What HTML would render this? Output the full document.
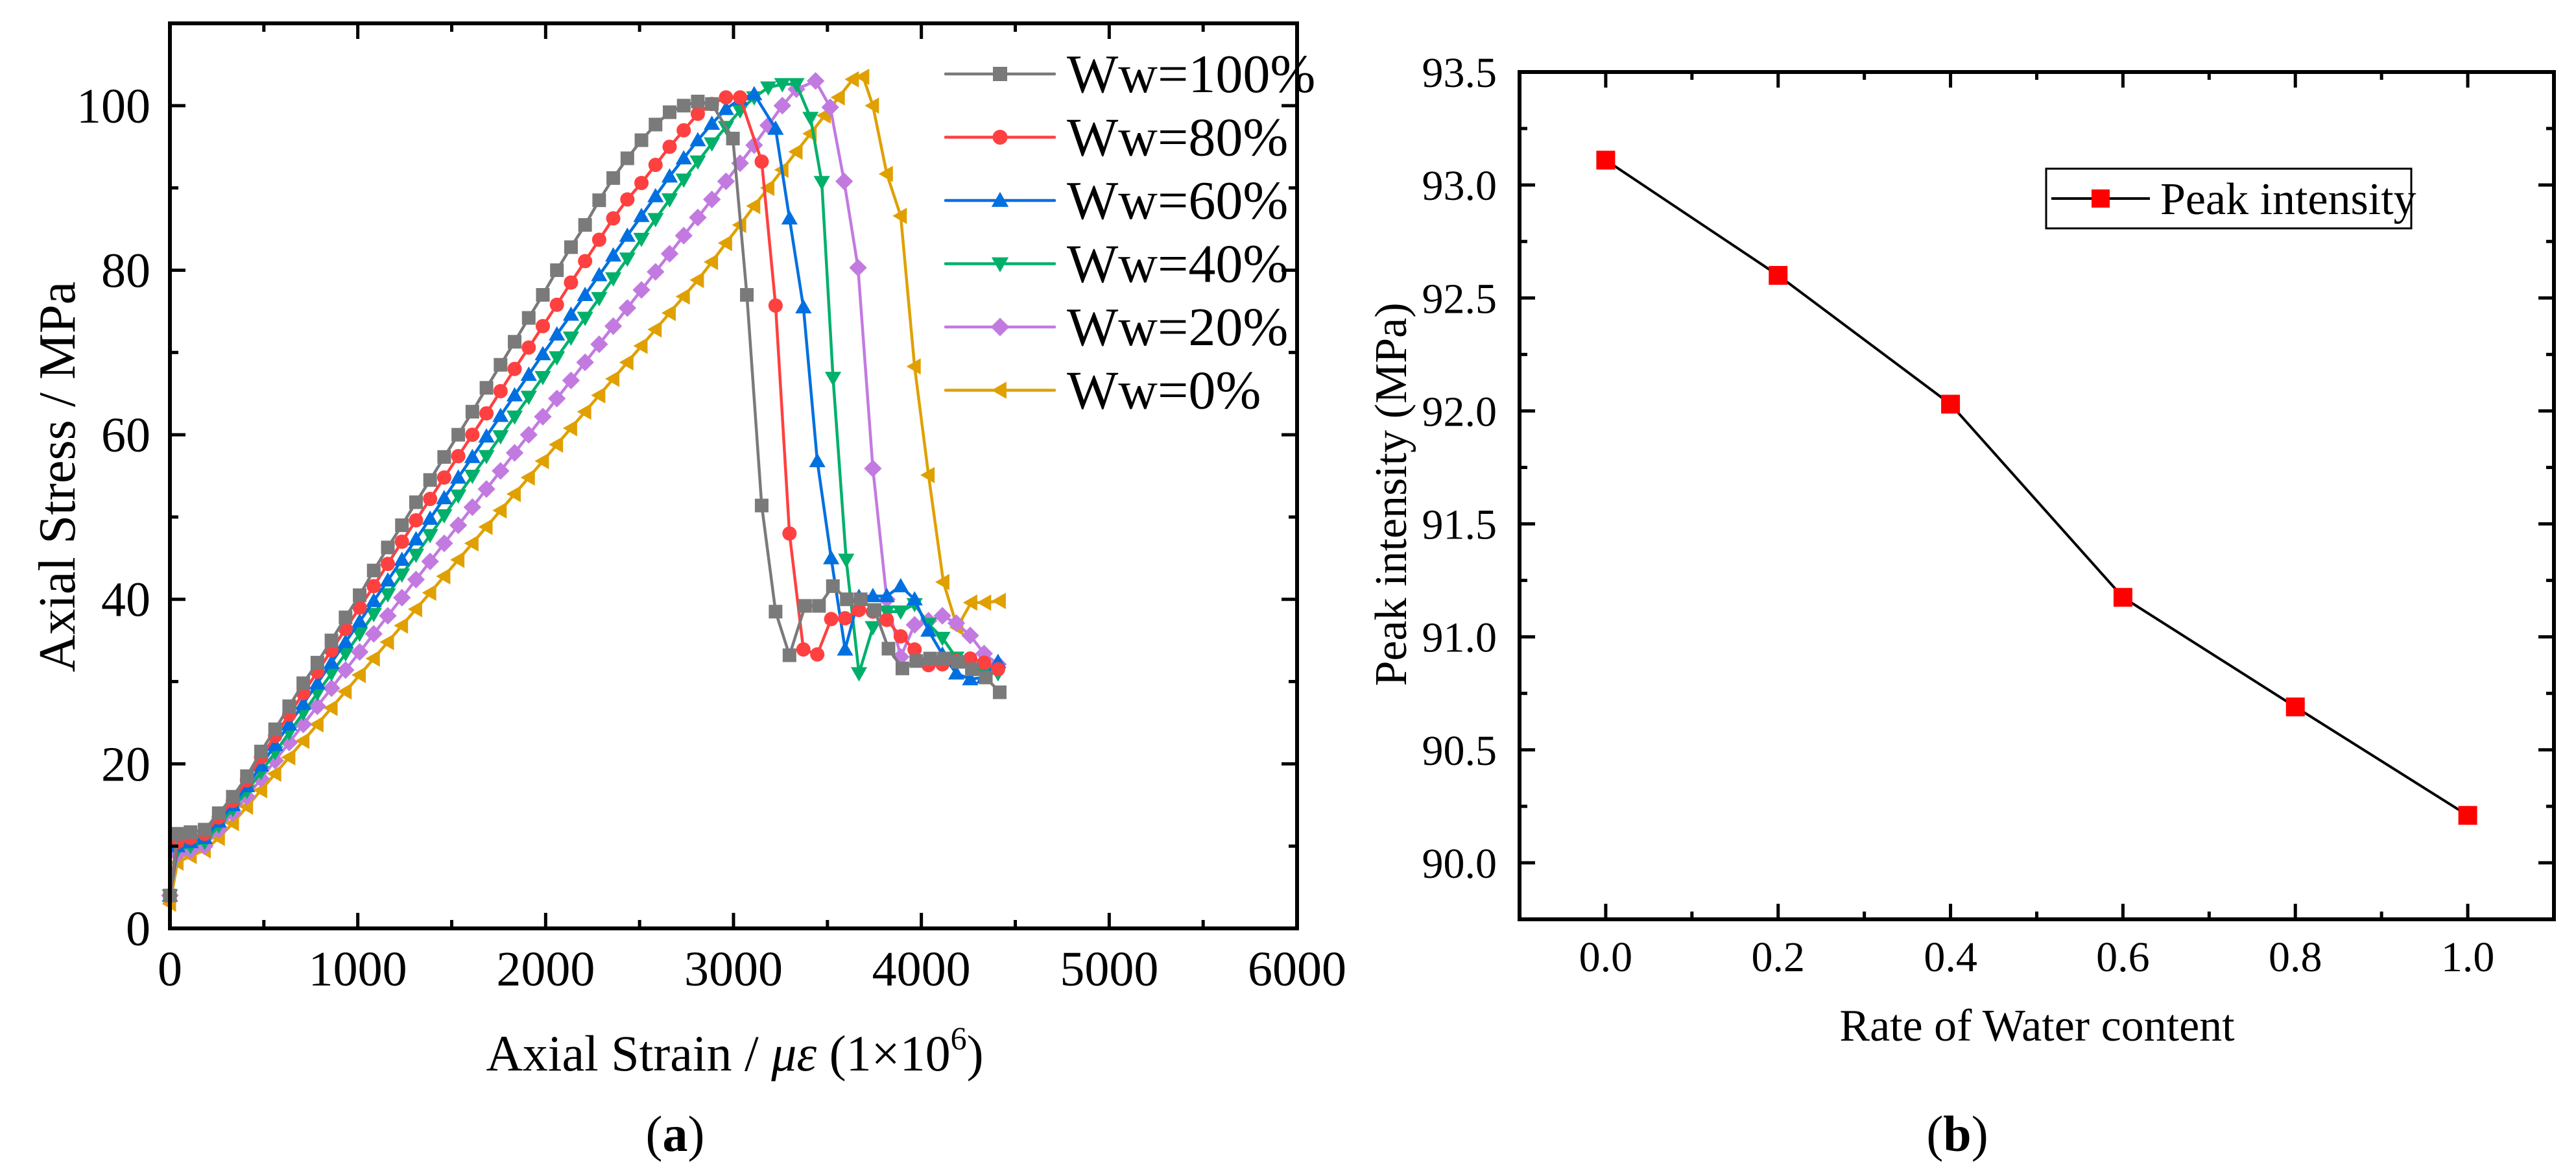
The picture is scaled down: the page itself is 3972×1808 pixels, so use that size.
<!DOCTYPE html>
<html><head><meta charset="utf-8"><style>
html,body{margin:0;padding:0;background:#fff;font-family:"Liberation Serif","DejaVu Serif",serif;}
svg{display:block;}
svg text, svg tspan{font-family:"Liberation Serif","DejaVu Serif",serif !important;fill:#000;}
</style></head><body>
<svg id="root" width="3972" height="1808" viewBox="0 0 3972 1808" xmlns="http://www.w3.org/2000/svg" font-family="Liberation Serif">
<g id="chartA" font-family="Liberation Serif"></g>
<g id="chartB" font-family="Liberation Serif"></g>
<g id="labelsA" font-family="Liberation Serif">
<text x="1133" y="1650" font-size="78" text-anchor="middle" font-family="Liberation Serif">Axial Strain / <tspan font-style="italic">με</tspan> (1×10<tspan font-size="50" dy="-33">6</tspan><tspan dy="33">)</tspan></text>
<text x="0" y="0" font-size="80" text-anchor="middle" font-family="Liberation Serif" transform="translate(115,735) rotate(-90)">Axial Stress / MPa</text>
<text x="1041" y="1774" font-size="78" text-anchor="middle" font-family="Liberation Serif">(<tspan font-weight="bold">a</tspan>)</text>
<text x="1645" y="142" font-size="84" font-family="Liberation Serif">Ww=100%</text>
<text x="1645" y="239.5" font-size="84" font-family="Liberation Serif">Ww=80%</text>
<text x="1645" y="337" font-size="84" font-family="Liberation Serif">Ww=60%</text>
<text x="1645" y="434.5" font-size="84" font-family="Liberation Serif">Ww=40%</text>
<text x="1645" y="532" font-size="84" font-family="Liberation Serif">Ww=20%</text>
<text x="1645" y="629.5" font-size="84" font-family="Liberation Serif">Ww=0%</text>
</g>
<g id="labelsB" font-family="Liberation Serif">
<text x="3141" y="1604" font-size="70" text-anchor="middle" font-family="Liberation Serif">Rate of Water content</text>
<text x="0" y="0" font-size="70" text-anchor="middle" font-family="Liberation Serif" transform="translate(2168,762) rotate(-90)">Peak intensity (MPa)</text>
<text x="3018" y="1774" font-size="78" text-anchor="middle" font-family="Liberation Serif">(<tspan font-weight="bold">b</tspan>)</text>
</g>
</svg>
<script>
// ---- Chart (a) data ----
const seriesNames = ["Ww=100%","Ww=80%","Ww=60%","Ww=40%","Ww=20%","Ww=0%"];
const seriesColors = ["#7a7a7a","#ff4040","#0070e0","#00b06a","#c27ae0","#e0a000"];
const seriesMarkers = ["square","circle","triangle-up","triangle-down","diamond","triangle-left"];
const gridX = [0,40,110,185,260,335,410,485,560,635,710,785,860,935,1010,1085,1160,1235,1310,1385,1460,1535,1610,1685,1760,1835,1910,1985,2060,2135,2210,2285,2360,2435,2510,2585,2660,2735,2810,2885,2960,3035,3110,3185,3260,3335,3410,3485,3560,3635];
const x100 = gridX.slice(0,40).concat([2997,3071,3150,3224,3298,3381,3455,3529,3603,3677,3751,3825,3899,3973,4047,4121,4195,4269,4343,4417]);
const y100 = [4,11.5,11.7,12,14,16,18.5,21.5,24.2,27,29.8,32.3,35,37.8,40.5,43.5,46.3,49,51.8,54.5,57.3,60,62.8,65.7,68.5,71.3,74.2,77,80,82.8,85.5,88.5,91.2,93.6,95.8,97.7,99.2,100,100.5,100.2,96,77,51.4,38.5,33.2,39.2,39.2,41.6,40,40,38.7,34,31.6,32.5,32.8,32.8,32.4,31.5,30.5,28.7];
const x80 = gridX.slice(0,42).concat([3150,3224,3298,3372,3446,3520,3594,3668,3742,3816,3890,3964,4038,4112,4186,4260,4334,4408]);
const y80 = [4,10.5,11,11.5,13.5,15.5,18,20.8,23.4,26,28.6,31.2,33.8,36.4,39,41.6,44.3,47,49.6,52.2,54.8,57.4,60,62.6,65.3,68,70.6,73.2,75.8,78.5,81.1,83.7,86.3,88.6,90.6,92.8,95,97,99,100.2,101,101,93.2,75.7,48,33.9,33.3,37.6,37.7,38.7,38.5,37.5,35.5,33.9,32,32.1,32.5,32.8,32.3,31.5];
const x60 = gridX.slice(0,43).concat([3224,3298,3372,3446,3520,3594,3668,3742,3816,3890,3964,4038,4112,4186,4260,4334,4408]);
const y60 = [4,10,10.5,11,13,15,17.3,19.8,22.3,24.8,27.3,29.8,32.3,34.8,37.3,39.8,42.3,44.8,47.3,49.8,52.3,54.8,57.3,59.8,62.3,64.8,67.3,69.8,72.2,74.6,77,79.4,81.8,84.2,86.6,89,91.4,93.6,95.8,97.8,99.6,100.8,101.4,97.2,86.3,75.5,56.8,45,33.9,40.3,40.4,40.4,41.6,40,36.2,33.3,31,30.3,30.5,32.4];
const x40 = gridX.slice(0,46).concat([3410,3470,3530,3600,3668,3742,3816,3890,3964,4038,4112,4186,4260,4334,4408]);
const y40 = [4,9.5,10,10.5,12.5,14.5,16.7,19,21.4,23.8,26.2,28.6,31,33.4,35.8,38.2,40.6,43,45.4,47.8,50.2,52.6,55,57.4,59.8,62.2,64.6,67,69.4,71.8,74.2,76.6,79,81.4,83.8,86.2,88.6,91,93.2,95.4,97.4,99.4,101,102.2,102.6,102.6,98.5,90.7,66.9,44.8,31,36.6,38.5,38.5,39.4,37,35.3,32.9,31.5,31,31];
const x20 = gridX.slice(0,46).concat([3437,3515,3589,3663,3742,3816,3890,3964,4038,4112,4186,4260,4334,4408]);
const y20 = [4,9,9.5,10,12,14,16,18.2,20.4,22.6,24.8,27,29.2,31.4,33.6,35.8,38,40.2,42.4,44.6,46.8,49,51.2,53.4,55.6,57.8,60,62.2,64.4,66.6,68.8,71,73.2,75.4,77.6,79.8,82,84.2,86.4,88.6,90.8,93,95.2,97.6,100,102,103,99.8,90.8,80.3,55.9,40,33,36.9,37.4,38,37.1,35.6,33.4,32.1];
const x0 = gridX.concat([3690,3742,3816,3890,3964,4038,4117,4191,4265,4339,4417]);
const y0 = [3,8,8.8,9.5,11,12.8,14.8,16.8,18.8,20.8,22.8,24.8,26.8,28.8,30.8,32.8,34.8,36.8,38.8,40.8,42.8,44.8,46.8,48.8,50.8,52.8,54.8,56.8,58.8,60.8,62.8,64.8,66.8,68.8,70.8,72.8,74.8,76.8,78.8,81,83.3,85.5,87.8,90,92.2,94.4,96.6,98.8,101,103.2,103.5,100,91.7,86.6,68.3,55.1,42.1,36.6,39.6,39.6,39.8];
const seriesX = [x100,x80,x60,x40,x20,x0];
const seriesY = [y100,y80,y60,y40,y20,y0];
const aXTicks = ["0","1000","2000","3000","4000","5000","6000"];
const aYTicks = ["0","20","40","60","80","100"];

// ---- Chart (b) data ----
const bCategories = [0.0,0.2,0.4,0.6,0.8,1.0];
const bValues = [93.11,92.60,92.03,91.175,90.69,90.21];
const bXTicks = ["0.0","0.2","0.4","0.6","0.8","1.0"];
const bYTicks = ["90.0","90.5","91.0","91.5","92.0","92.5","93.0","93.5"];

const NS="http://www.w3.org/2000/svg";
function mk(parent,tag,attrs){const e=document.createElementNS(NS,tag);for(const k in attrs)e.setAttribute(k,attrs[k]);if(tag==='text'){e.setAttribute('font-family','Liberation Serif');}parent.appendChild(e);return e;}

// ===== Chart A =====
const A=document.getElementById('chartA');
const aL=262,aR=2000,aT=36,aB=1431;
function axA(v){return aL+v/6000*(aR-aL);}
function ayA(v){return aB-v/110*(aB-aT);}

function marker(g,type,cx,cy,s,color){
  let e;
  if(type==="square"){e=mk(g,'rect',{x:cx-s/2,y:cy-s/2,width:s,height:s,fill:color});}
  else if(type==="circle"){e=mk(g,'circle',{cx:cx,cy:cy,r:s/2*1.05,fill:color});}
  else if(type==="triangle-up"){e=mk(g,'polygon',{points:`${cx},${cy-s*0.6} ${cx-s*0.6},${cy+s*0.45} ${cx+s*0.6},${cy+s*0.45}`,fill:color});}
  else if(type==="triangle-down"){e=mk(g,'polygon',{points:`${cx},${cy+s*0.6} ${cx-s*0.6},${cy-s*0.45} ${cx+s*0.6},${cy-s*0.45}`,fill:color});}
  else if(type==="diamond"){e=mk(g,'polygon',{points:`${cx},${cy-s*0.65} ${cx+s*0.65},${cy} ${cx},${cy+s*0.65} ${cx-s*0.65},${cy}`,fill:color});}
  else {e=mk(g,'polygon',{points:`${cx-s*0.6},${cy} ${cx+s*0.45},${cy-s*0.6} ${cx+s*0.45},${cy+s*0.6}`,fill:color});}
  return e;
}

for(let i=seriesX.length-1;i>=0;i--){
  const g=mk(A,'g',{});
  
  
  const pts=seriesX[i].map((x,j)=>axA(x).toFixed(1)+','+ayA(seriesY[i][j]).toFixed(1)).join(' ');
  const pl=mk(g,'polyline',{points:pts,fill:'none',stroke:seriesColors[i],'stroke-width':4.5,'stroke-linejoin':'round'});
  
  
  seriesX[i].forEach((x,j)=>{
    const m=marker(g,seriesMarkers[i],axA(x),ayA(seriesY[i][j]),21,seriesColors[i]);
    
    
  });
}
const fA=mk(A,'rect',{x:aL,y:aT,width:aR-aL,height:aB-aT,fill:'none',stroke:'#000','stroke-width':6});


for(let v=0;v<=6000;v+=500){
  const major=v%1000===0, len=major?24:13;
  const x=axA(v);
  mk(A,'line',{x1:x,y1:aB,x2:x,y2:aB-len,stroke:'#000','stroke-width':5});
  mk(A,'line',{x1:x,y1:aT,x2:x,y2:aT+len,stroke:'#000','stroke-width':5});
}
aXTicks.forEach(s=>{
  const t=mk(A,'text',{x:axA(parseFloat(s)),y:1519,'font-size':76,'text-anchor':'middle'});t.textContent=s;
  
  
});
for(let v=0;v<=110;v+=10){
  const major=v%20===0, len=major?24:13;
  const y=ayA(v);
  mk(A,'line',{x1:aL,y1:y,x2:aL+len,y2:y,stroke:'#000','stroke-width':5});
  mk(A,'line',{x1:aR,y1:y,x2:aR-len,y2:y,stroke:'#000','stroke-width':5});
}
aYTicks.forEach(s=>{
  const t=mk(A,'text',{x:232,y:ayA(parseFloat(s))+26,'font-size':76,'text-anchor':'end'});t.textContent=s;
  
  
});
const leg=mk(A,'g',{});


seriesNames.forEach((n,i)=>{
  const y=114+i*97.5;
  const e=mk(leg,'g',{});
  
  
  mk(e,'line',{x1:1458,y1:y,x2:1626,y2:y,stroke:seriesColors[i],'stroke-width':4.5,'stroke-linecap':'round'});
  marker(e,seriesMarkers[i],1542,y,22,seriesColors[i]);
});

// ===== Chart B =====
const B=document.getElementById('chartB');
const bL=2343,bR=3938,bT=111,bB=1417;
const bx=v=>bL+(v+0.1)/1.2*(bR-bL);
const by=v=>bB-(v-89.75)/3.75*(bB-bT);
const line=mk(B,'polyline',{points:bCategories.map((c,i)=>bx(c).toFixed(1)+','+by(bValues[i]).toFixed(1)).join(' '),fill:'none',stroke:'#000','stroke-width':4});


bCategories.forEach((c,i)=>{
  const r=mk(B,'rect',{x:bx(c)-14.5,y:by(bValues[i])-14.5,width:29,height:29,fill:'#ff0000'});
  
  
});
const fB=mk(B,'rect',{x:bL,y:bT,width:bR-bL,height:bB-bT,fill:'none',stroke:'#000','stroke-width':6});


for(let k=-1;k<=11;k++){
  const v=k/10, major=k%2===0, len=major?24:12, x=bx(v);
  mk(B,'line',{x1:x,y1:bB,x2:x,y2:bB-len,stroke:'#000','stroke-width':5});
  mk(B,'line',{x1:x,y1:bT,x2:x,y2:bT+len,stroke:'#000','stroke-width':5});
}
bXTicks.forEach((s,i)=>{
  const t=mk(B,'text',{x:bx(bCategories[i]),y:1497,'font-size':66,'text-anchor':'middle'});
  t.textContent=s;
  
  
});
for(let k=0;k<=15;k++){
  const v=89.75+k*0.25, major=k%2===1, len=major?24:12, y=by(v);
  mk(B,'line',{x1:bL,y1:y,x2:bL+len,y2:y,stroke:'#000','stroke-width':5});
  mk(B,'line',{x1:bR,y1:y,x2:bR-len,y2:y,stroke:'#000','stroke-width':5});
}
bYTicks.forEach(s=>{
  const t=mk(B,'text',{x:2308,y:by(parseFloat(s))+23,'font-size':66,'text-anchor':'end'});t.textContent=s;
  
  
});
const lgB=mk(B,'g',{});


mk(lgB,'rect',{x:3155,y:260,width:563,height:92,fill:'#fff',stroke:'#000','stroke-width':3});
mk(lgB,'line',{x1:3163,y1:306,x2:3315,y2:306,stroke:'#000','stroke-width':4});
mk(lgB,'rect',{x:3225,y:292,width:28,height:28,fill:'#ff0000'});
const lt=mk(lgB,'text',{x:3331,y:330,'font-size':70});lt.textContent='Peak intensity';
</script>
</body></html>
